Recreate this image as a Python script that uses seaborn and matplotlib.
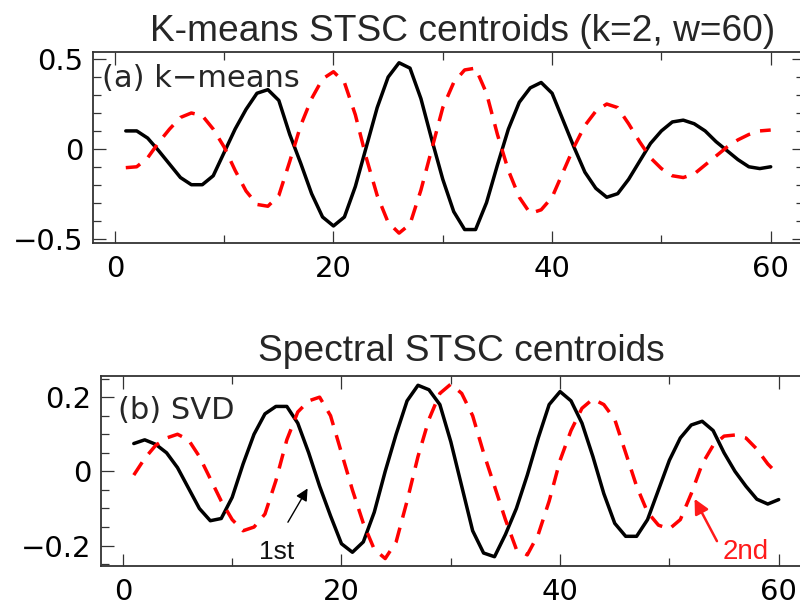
import matplotlib
matplotlib.use("Agg")
import matplotlib.pyplot as plt
import numpy as np
import pandas as pd
import seaborn as sns

# ---------------- data ----------------
x_idx = list(range(1, 61))

kmeans_c1 = [0.10, 0.10, 0.06, -0.01, -0.085, -0.16, -0.20, -0.20, -0.15, -0.02,
             0.11, 0.22, 0.31, 0.33, 0.27, 0.08, -0.08, -0.25, -0.38, -0.43,
             -0.38, -0.21, 0.01, 0.23, 0.40, 0.48, 0.45, 0.28, 0.05, -0.17,
             -0.35, -0.45, -0.45, -0.30, -0.09, 0.11, 0.26, 0.34, 0.37, 0.31,
             0.16, 0.01, -0.13, -0.22, -0.27, -0.25, -0.17, -0.07, 0.03, 0.10,
             0.15, 0.16, 0.14, 0.10, 0.04, -0.01, -0.06, -0.10, -0.11, -0.10]
kmeans_c2 = [-0.105, -0.10, -0.05, 0.035, 0.11, 0.175, 0.20, 0.185, 0.11, 0.01,
             -0.12, -0.235, -0.31, -0.32, -0.26, -0.07, 0.13, 0.28, 0.39, 0.43,
             0.37, 0.19, -0.05, -0.26, -0.41, -0.47, -0.42, -0.23, 0.0, 0.23,
             0.37, 0.44, 0.45, 0.31, 0.08, -0.12, -0.27, -0.36, -0.34, -0.27,
             -0.13, 0.01, 0.13, 0.21, 0.25, 0.23, 0.14, 0.04, -0.05, -0.11,
             -0.15, -0.16, -0.14, -0.09, -0.04, 0.01, 0.05, 0.08, 0.10, 0.105]

svd_1st = [0.075, 0.085, 0.073, 0.05, 0.01, -0.045, -0.10, -0.133, -0.127, -0.07,
           0.02, 0.10, 0.155, 0.175, 0.175, 0.13, 0.05, -0.04, -0.12, -0.195,
           -0.218, -0.19, -0.11, 0.0, 0.10, 0.19, 0.232, 0.22, 0.18, 0.08,
           -0.04, -0.16, -0.22, -0.23, -0.17, -0.10, -0.01, 0.09, 0.18, 0.215,
           0.19, 0.13, 0.04, -0.06, -0.14, -0.175, -0.175, -0.13, -0.05, 0.03,
           0.09, 0.125, 0.135, 0.11, 0.05, 0.0, -0.04, -0.075, -0.088, -0.076]
svd_2nd = [-0.01, 0.035, 0.07, 0.09, 0.10, 0.085, 0.04, -0.02, -0.08, -0.13,
           -0.16, -0.15, -0.115, -0.025, 0.085, 0.16, 0.19, 0.20, 0.15, 0.05,
           -0.05, -0.14, -0.21, -0.235, -0.19, -0.08, 0.04, 0.14, 0.21, 0.235,
           0.21, 0.15, 0.05, -0.04, -0.13, -0.21, -0.225, -0.17, -0.08, 0.03,
           0.11, 0.17, 0.195, 0.18, 0.14, 0.05, -0.04, -0.11, -0.145, -0.155,
           -0.13, -0.06, 0.02, 0.07, 0.095, 0.098, 0.09, 0.06, 0.02, -0.01]

title_a = "K-means STSC centroids (k=2, w=60)"
title_b = "Spectral STSC centroids"
panel_a = "(a) k\u2212means"
panel_b = "(b) SVD"
ann_1st = "1st"
ann_2nd = "2nd"

x_ticks = [0, 20, 40, 60]
x_ticklabels = ["0", "20", "40", "60"]
x_minor = [10, 30, 50]
y_ticks_a = [-0.5, 0, 0.5]
y_ticklabels_a = ["\u22120.5", "0", "0.5"]
y_ticks_b = [-0.2, 0, 0.2]
y_ticklabels_b = ["\u22120.2", "0", "0.2"]

# ---------------- style ----------------
sns.set_style("ticks")
plt.rcParams["font.family"] = ["DejaVu Sans"]

fig = plt.figure(figsize=(8, 6.1), dpi=100)
W, H = 800.0, 610.0
ax1 = fig.add_axes([93 / W, 1 - 243 / H, 710.5 / W, 191 / H])
ax2 = fig.add_axes([101 / W, 1 - 566 / H, 710.5 / W, 190 / H])

pal = {"c1": "#000000", "c2": "#ff0000"}
dash = {"c1": "", "c2": (4.4, 3.0)}

df_a = pd.DataFrame({"x": x_idx * 2, "y": kmeans_c1 + kmeans_c2,
                     "c": ["c1"] * len(x_idx) + ["c2"] * len(x_idx)})
df_b = pd.DataFrame({"x": x_idx * 2, "y": svd_1st + svd_2nd,
                     "c": ["c1"] * len(x_idx) + ["c2"] * len(x_idx)})

for ax, df in ((ax1, df_a), (ax2, df_b)):
    sns.lineplot(data=df, x="x", y="y", hue="c", style="c", palette=pal,
                 dashes=dash, linewidth=2.5, legend=False, ax=ax)
    ax.set_xlabel("")
    ax.set_ylabel("")
    ax.set_xlim(-2, 63)
    ax.set_xticks(x_ticks)
    ax.set_xticklabels(x_ticklabels)
    ax.set_xticks(x_minor, minor=True)
    for s in ax.spines.values():
        s.set_visible(True)
        s.set_color("#333333")
        s.set_linewidth(1.3)
    ax.tick_params(which="both", direction="in", top=True, right=True,
                   colors="#333333", labelcolor="black", labelsize=21)
    ax.tick_params(which="major", length=9, width=0.9)
    ax.tick_params(which="minor", length=6, width=0.9)
    ax.tick_params(axis="x", which="major", pad=9)
    ax.tick_params(axis="y", which="major", pad=7)
    ax.grid(False)

ax1.set_ylim(-0.525, 0.54)
ax1.set_yticks(y_ticks_a)
ax1.set_yticklabels(y_ticklabels_a)
ax1.set_yticks(np.round(np.arange(-0.5, 0.51, 0.1), 2), minor=True)

ax2.set_ylim(-0.255, 0.257)
ax2.set_yticks(y_ticks_b)
ax2.set_yticklabels(y_ticklabels_b)
ax2.set_yticks(np.round(np.arange(-0.25, 0.251, 0.05), 3), minor=True)

# panel labels
ax1.text(0.012, (243 - 87) / 191, panel_a, transform=ax1.transAxes,
         fontsize=22, va="baseline", ha="left")
ax2.text(0.024, (566 - 419) / 190, panel_b, transform=ax2.transAxes,
         fontsize=22, va="baseline", ha="left")

# titles
fig.text(463 / W, 1 - 41 / H, title_a, ha="center", va="baseline",
         fontsize=26.7, family=["Liberation Sans", "DejaVu Sans"])
fig.text(461.5 / W, 1 - 361 / H, title_b, ha="center", va="baseline",
         fontsize=26.7, family=["Liberation Sans", "DejaVu Sans"])

# annotations in panel (b)
ax2.annotate("", xy=(16.9, -0.046), xytext=(15.1, -0.137),
             arrowprops=dict(arrowstyle="-|>", color="black", lw=1.0,
                             mutation_scale=18, shrinkA=0, shrinkB=0))
ax2.text(14.1, -0.237, ann_1st, ha="center", va="baseline", fontsize=19,
         color="#111111", family=["Liberation Sans", "DejaVu Sans"])
ax2.annotate("", xy=(52.3, -0.074), xytext=(54.35, -0.188),
             arrowprops=dict(arrowstyle="-|>", color="#ff1a1a", lw=1.8,
                             mutation_scale=22, shrinkA=0, shrinkB=0))
ax2.text(57.0, -0.237, ann_2nd, ha="center", va="baseline", fontsize=20,
         color="#ff1a1a", family=["Liberation Sans", "DejaVu Sans"])

fig.savefig("out.png", dpi=100, facecolor="white")
